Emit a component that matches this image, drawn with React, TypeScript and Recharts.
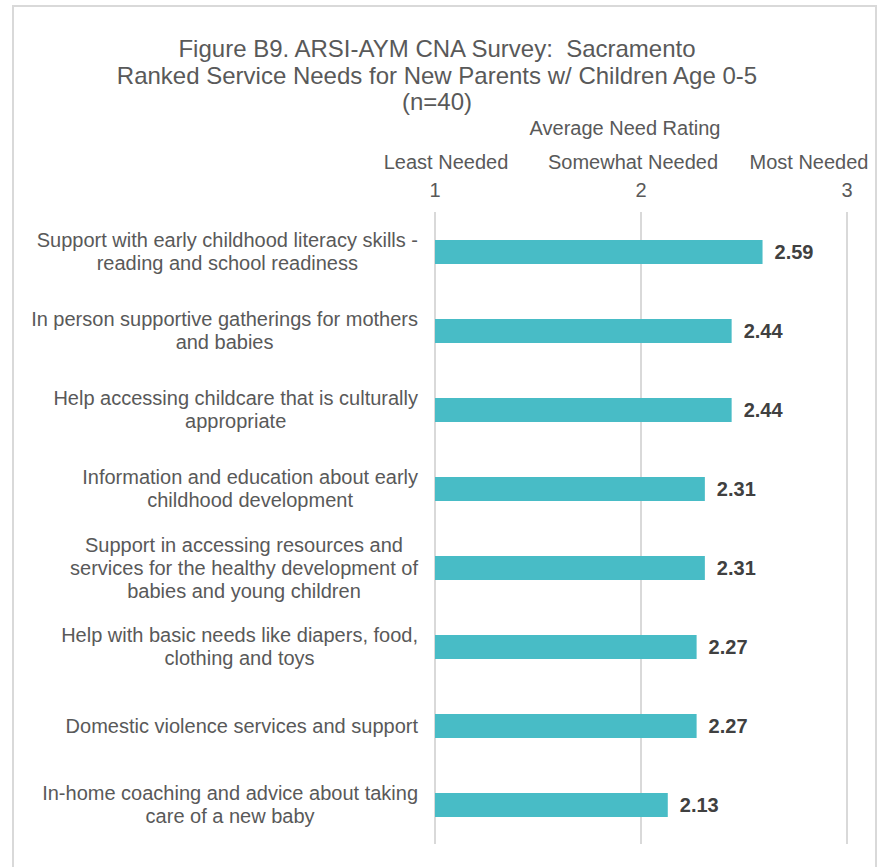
import { BarChart, Bar, XAxis, YAxis, CartesianGrid, LabelList } from 'recharts';

const categoryLines: string[][] = [
  ['Support with early childhood literacy skills -', 'reading and school readiness'],
  ['In person supportive gatherings for mothers', 'and babies'],
  ['Help accessing childcare that is culturally', 'appropriate'],
  ['Information and education about early', 'childhood development'],
  ['Support in accessing resources and', 'services for the healthy development of', 'babies and young children'],
  ['Help with basic needs like diapers, food,', 'clothing and toys'],
  ['Domestic violence services and support'],
  ['In-home coaching and advice about taking', 'care of a new baby'],
];

const ratings = [2.59, 2.44, 2.44, 2.31, 2.31, 2.27, 2.27, 2.13];

const axisTicks = [1, 2, 3];
const tickNames = ['Least Needed', 'Somewhat Needed', 'Most Needed'];

const titleLines = [
  'Figure B9. ARSI-AYM CNA Survey:  Sacramento',
  'Ranked Service Needs for New Parents w/ Children Age 0-5',
  '(n=40)',
];
const axisTitle = 'Average Need Rating';

const data = categoryLines.map((lines, i) => ({
  name: lines.join(' '),
  value: ratings[i],
}));

const FONT = '"Liberation Sans", Arial, sans-serif';
const GRAY = '#595959';

let ctx: CanvasRenderingContext2D | null = null;
function textWidth(s: string, size: number) {
  if (!ctx) ctx = document.createElement('canvas').getContext('2d');
  if (!ctx) return s.length * size * 0.5;
  ctx.font = `${size}px "Liberation Sans"`;
  return ctx.measureText(s).width;
}

// descriptor labels sit a little off their tick in the original
const nameShift = [11, -8, -38];

function TopTick(props: any) {
  const { x, y, payload, index } = props;
  return (
    <g>
      <text x={x} y={y - 15} textAnchor="middle" fill={GRAY} fontSize={20} fontFamily={FONT}>
        {payload.value}
      </text>
      <text x={x + nameShift[index]} y={y - 43} textAnchor="middle" fill={GRAY} fontSize={20} fontFamily={FONT}>
        {tickNames[index]}
      </text>
    </g>
  );
}

function CategoryTick(props: any) {
  const { x, y, index } = props;
  const lines = categoryLines[index] || [];
  const right = x - 17;
  const w = Math.max(...lines.map((l) => textWidth(l, 20)));
  const cx = right - w / 2;
  return (
    <g>
      {lines.map((l, i) => (
        <text
          key={i}
          x={cx}
          y={y + (i - (lines.length - 1) / 2) * 23}
          dy={7}
          textAnchor="middle"
          fill={GRAY}
          fontSize={20}
          fontFamily={FONT}
        >
          {l}
        </text>
      ))}
    </g>
  );
}

export default function App() {
  return (
    <div style={{ position: 'absolute', left: 0, top: 0, width: 881, height: 867, overflow: 'hidden', background: '#fff' }}>
      <div
        style={{
          position: 'absolute',
          left: 12,
          top: 5,
          width: 865,
          height: 920,
          border: '2px solid #d9d9d9',
          boxSizing: 'border-box',
        }}
      />
      <BarChart
        width={881}
        height={867}
        data={data}
        layout="vertical"
        margin={{ top: 152, right: 34, bottom: 23, left: 0 }}
        barCategoryGap={0}
      >
        <CartesianGrid horizontal={false} stroke="#d9d9d9" strokeWidth={2} />
        <XAxis
          type="number"
          orientation="top"
          domain={[1, 3]}
          ticks={axisTicks}
          height={60}
          axisLine={false}
          tickLine={false}
          tickSize={0}
          tickMargin={0}
          tick={<TopTick />}
          interval={0}
        />
        <YAxis
          type="category"
          dataKey="name"
          width={435}
          axisLine={false}
          tickLine={false}
          tickSize={0}
          tickMargin={0}
          tick={<CategoryTick />}
          interval={0}
        />
        <Bar dataKey="value" fill="#48bcc6" barSize={24} isAnimationActive={false}>
          <LabelList
            dataKey="value"
            position="right"
            offset={12}
            fill="#404040"
            fontSize={20}
            fontWeight="bold"
            fontFamily={FONT}
            formatter={(v: any) => Number(v).toFixed(2)}
          />
        </Bar>
      </BarChart>
      <svg width={881} height={150} style={{ position: 'absolute', left: 0, top: 0, pointerEvents: 'none' }}>
        {titleLines.map((t, i) => (
          <text
            key={i}
            x={437}
            y={57 + i * 26.5}
            textAnchor="middle"
            fill={GRAY}
            fontSize={24}
            fontFamily={FONT}
            style={{ whiteSpace: 'pre' }}
          >
            {t}
          </text>
        ))}
        <text x={625} y={135} textAnchor="middle" fill={GRAY} fontSize={20} fontFamily={FONT}>
          {axisTitle}
        </text>
      </svg>
    </div>
  );
}
